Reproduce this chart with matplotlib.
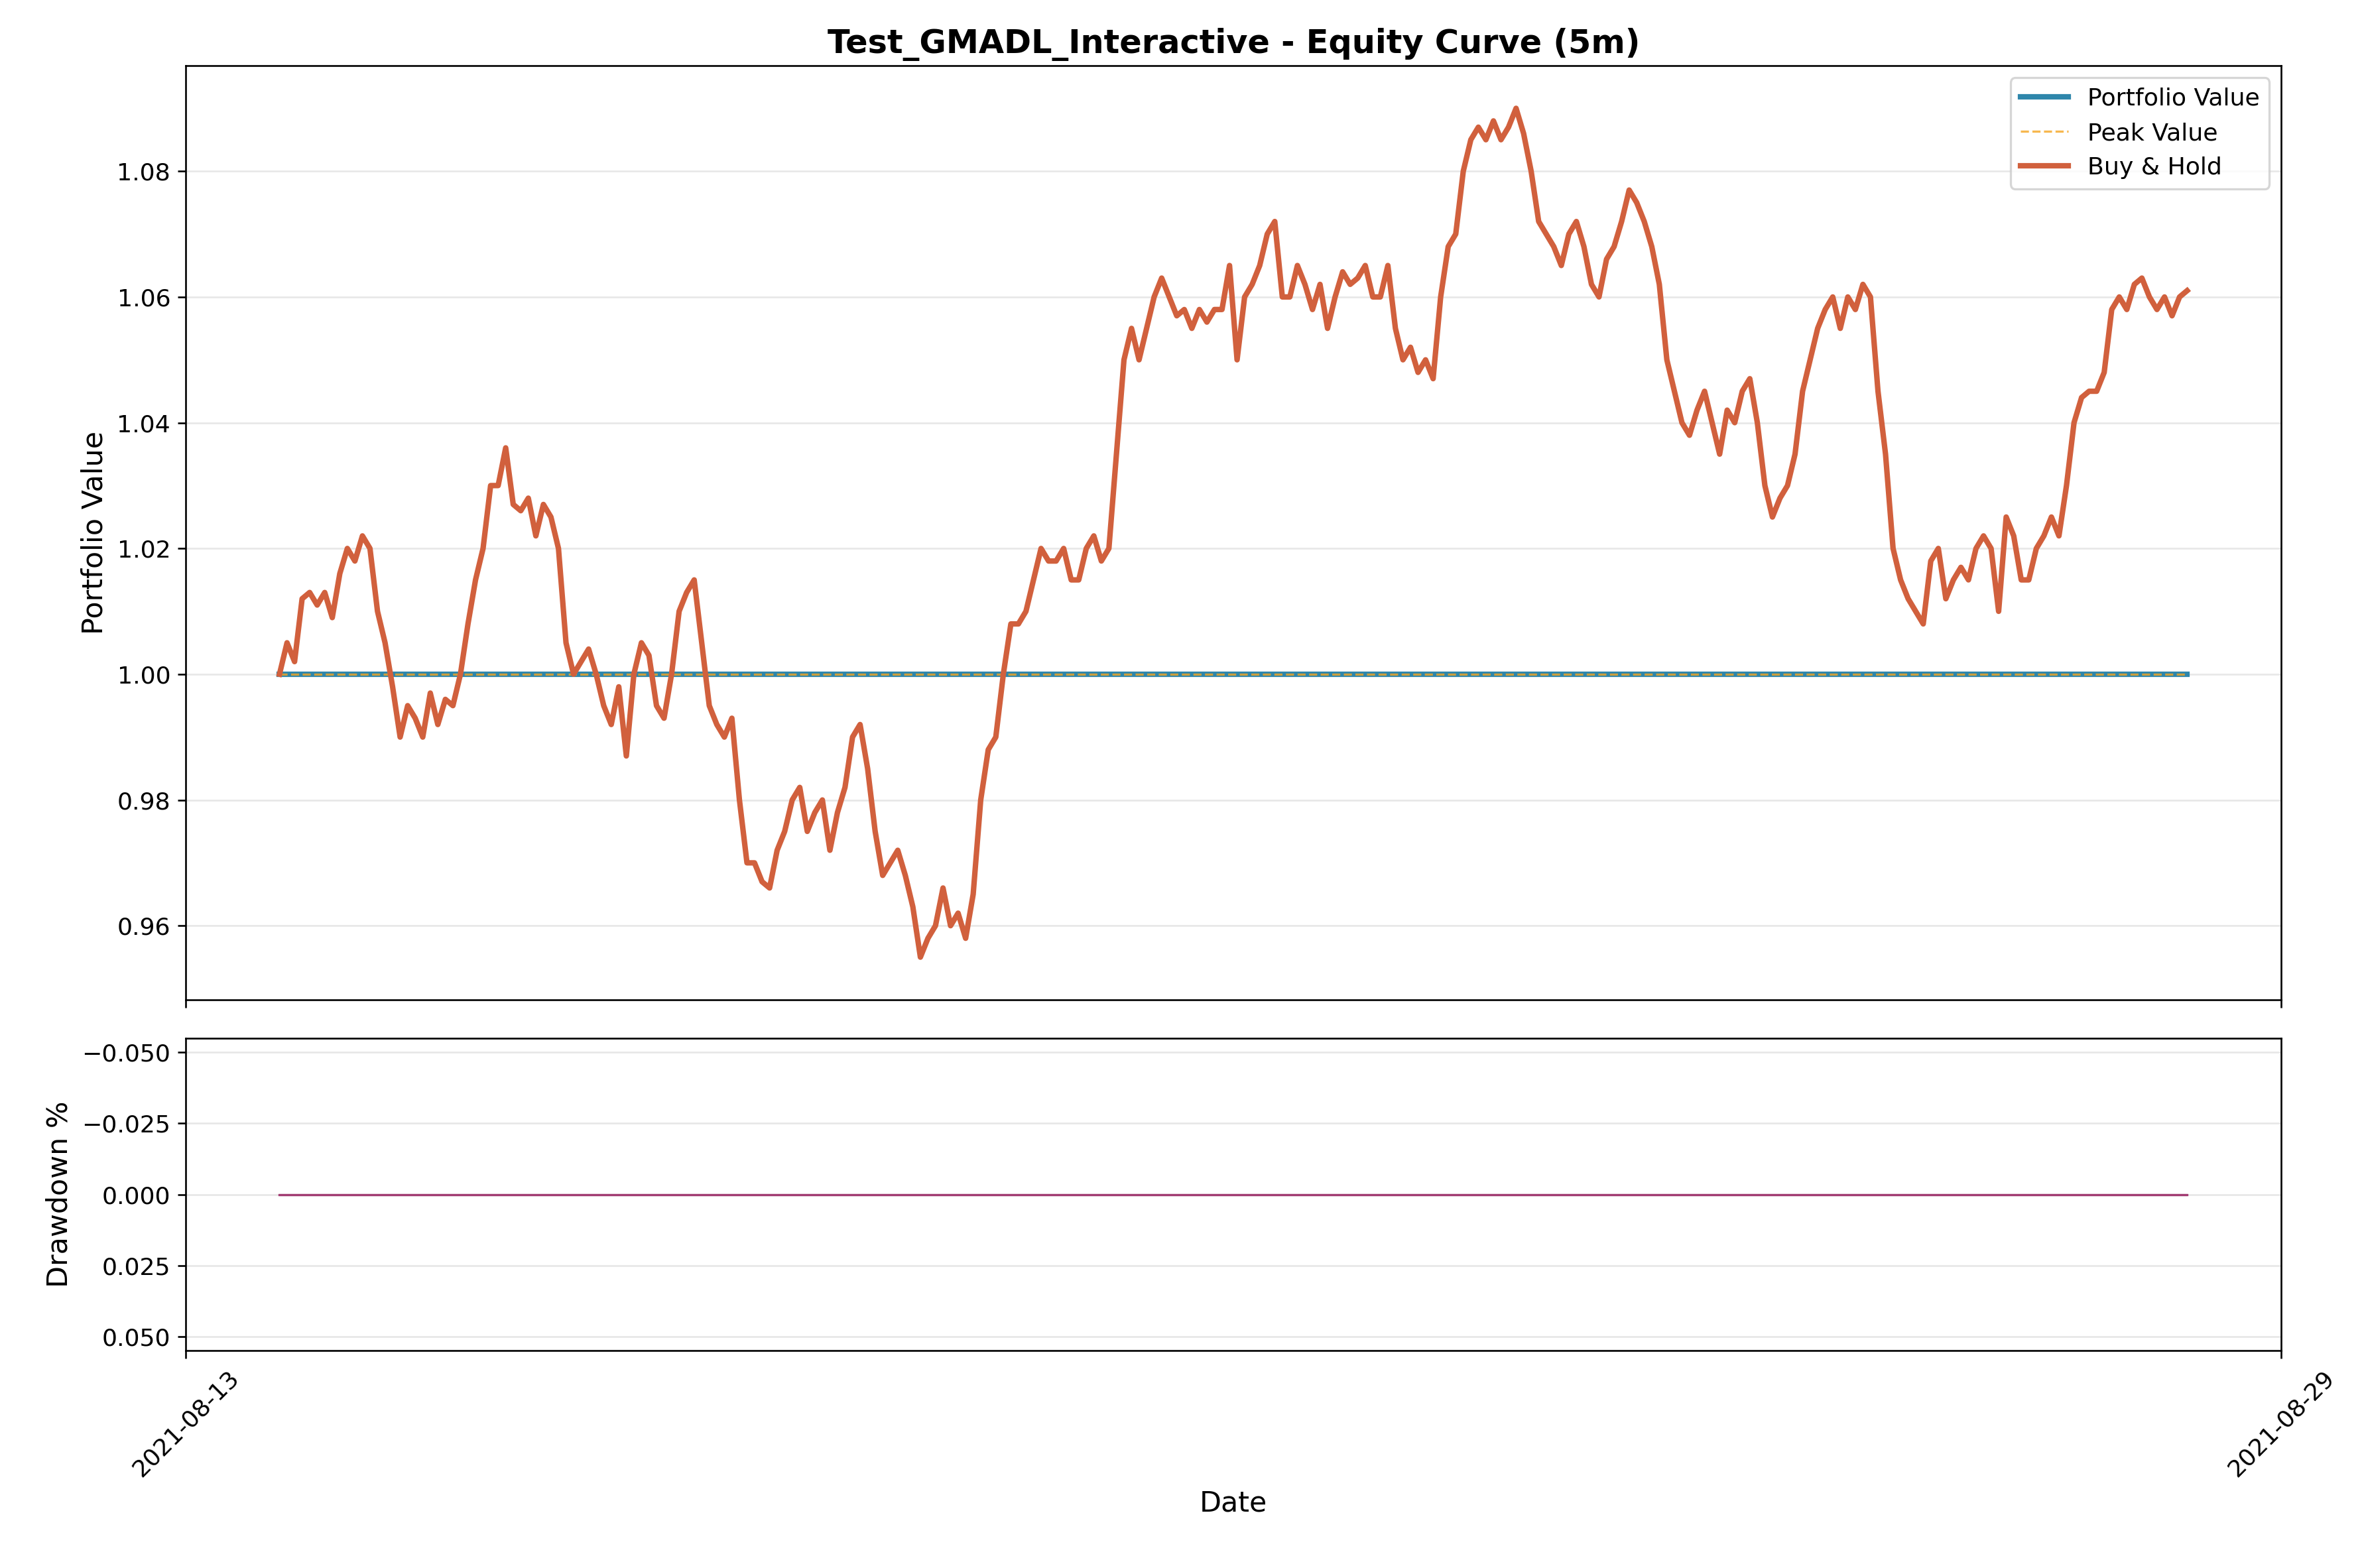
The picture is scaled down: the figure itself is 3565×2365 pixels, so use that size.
import matplotlib
matplotlib.use("Agg")
import matplotlib.pyplot as plt
import matplotlib.dates as mdates
import numpy as np
import pandas as pd

# Buy & Hold values at evenly spaced times
buy_hold = [
    1.000, 1.005, 1.002, 1.012, 1.013, 1.011, 1.013, 1.009, 1.016, 1.020,
    1.018, 1.022, 1.020, 1.010, 1.005, 0.998, 0.990, 0.995, 0.993, 0.990,
    0.997, 0.992, 0.996, 0.995, 1.000, 1.008, 1.015, 1.020, 1.030, 1.030,
    1.036, 1.027, 1.026, 1.028, 1.022, 1.027, 1.025, 1.020, 1.005, 1.000,
    1.002, 1.004, 1.000, 0.995, 0.992, 0.998, 0.987, 1.000, 1.005, 1.003,
    0.995, 0.993, 1.000, 1.010, 1.013, 1.015, 1.005, 0.995, 0.992, 0.990,
    0.993, 0.980, 0.970, 0.970, 0.967, 0.966, 0.972, 0.975, 0.980, 0.982,
    0.975, 0.978, 0.980, 0.972, 0.978, 0.982, 0.990, 0.992, 0.985, 0.975,
    0.968, 0.970, 0.972, 0.968, 0.963, 0.955, 0.958, 0.960, 0.966, 0.960,
    0.962, 0.958, 0.965, 0.980, 0.988, 0.990, 1.000, 1.008, 1.008, 1.010,
    1.015, 1.020, 1.018, 1.018, 1.020, 1.015, 1.015, 1.020, 1.022, 1.018,
    1.020, 1.035, 1.050, 1.055, 1.050, 1.055, 1.060, 1.063, 1.060, 1.057,
    1.058, 1.055, 1.058, 1.056, 1.058, 1.058, 1.065, 1.050, 1.060, 1.062,
    1.065, 1.070, 1.072, 1.060, 1.060, 1.065, 1.062, 1.058, 1.062, 1.055,
    1.060, 1.064, 1.062, 1.063, 1.065, 1.060, 1.060, 1.065, 1.055, 1.050,
    1.052, 1.048, 1.050, 1.047, 1.060, 1.068, 1.070, 1.080, 1.085, 1.087,
    1.085, 1.088, 1.085, 1.087, 1.090, 1.086, 1.080, 1.072, 1.070, 1.068,
    1.065, 1.070, 1.072, 1.068, 1.062, 1.060, 1.066, 1.068, 1.072, 1.077,
    1.075, 1.072, 1.068, 1.062, 1.050, 1.045, 1.040, 1.038, 1.042, 1.045,
    1.040, 1.035, 1.042, 1.040, 1.045, 1.047, 1.040, 1.030, 1.025, 1.028,
    1.030, 1.035, 1.045, 1.050, 1.055, 1.058, 1.060, 1.055, 1.060, 1.058,
    1.062, 1.060, 1.045, 1.035, 1.020, 1.015, 1.012, 1.010, 1.008, 1.018,
    1.020, 1.012, 1.015, 1.017, 1.015, 1.020, 1.022, 1.020, 1.010, 1.025,
    1.022, 1.015, 1.015, 1.020, 1.022, 1.025, 1.022, 1.030, 1.040, 1.044,
    1.045, 1.045, 1.048, 1.058, 1.060, 1.058, 1.062, 1.063, 1.060, 1.058,
    1.060, 1.057, 1.060, 1.061,
]
start_time = "2021-08-13 17:10"
end_time = "2021-08-28 06:45"
x_ticks = ["2021-08-13", "2021-08-29"]
dd_ticks = [-0.050, -0.025, 0.000, 0.025, 0.050]

dates = pd.date_range(start_time, end_time, periods=len(buy_hold))
portfolio = np.ones(len(buy_hold))
peak = np.maximum.accumulate(portfolio)
drawdown = (portfolio - peak) / peak * 100

plt.rcParams["font.size"] = 11

fig = plt.figure(figsize=(3565 / 237, 2365 / 237), dpi=237)
ax1 = fig.add_axes([0.0786, 0.3625, 0.8864, 0.5955])
ax2 = fig.add_axes([0.0786, 0.1385, 0.8864, 0.1995], sharex=ax1)

ax1.plot(dates, portfolio, color="#2E86AB", linewidth=2.5, label="Portfolio Value")
ax1.plot(dates, peak, color="#F5A623", linewidth=1, linestyle="--", alpha=0.8, label="Peak Value")
ax1.plot(dates, buy_hold, color="#D1603D", linewidth=2.5, label="Buy & Hold")
ax1.set_title("Test_GMADL_Interactive - Equity Curve (5m)", fontsize=15, fontweight="bold")
ax1.set_ylabel("Portfolio Value", fontsize=13)
ax1.legend(loc="upper right", fontsize=11)
ax1.grid(True, axis="y", alpha=0.3)
plt.setp(ax1.get_xticklabels(), visible=False)

ax2.fill_between(dates, drawdown, 0, color="#A23B72", alpha=0.3)
ax2.plot(dates, drawdown, color="#A23B72", linewidth=1)
ax2.set_ylabel("Drawdown %", fontsize=13)
ax2.set_xlabel("Date", fontsize=13)
ax2.set_ylim(0.055, -0.055)
ax2.set_yticks(dd_ticks)
ax2.grid(True, axis="y", alpha=0.3)

ax2.set_xlim(pd.Timestamp(x_ticks[0]), pd.Timestamp(x_ticks[1]))
ax2.set_xticks([pd.Timestamp(t) for t in x_ticks])
ax2.xaxis.set_major_formatter(mdates.DateFormatter("%Y-%m-%d"))
plt.setp(ax2.get_xticklabels(), rotation=45)

fig.savefig("out.png", dpi=237)
